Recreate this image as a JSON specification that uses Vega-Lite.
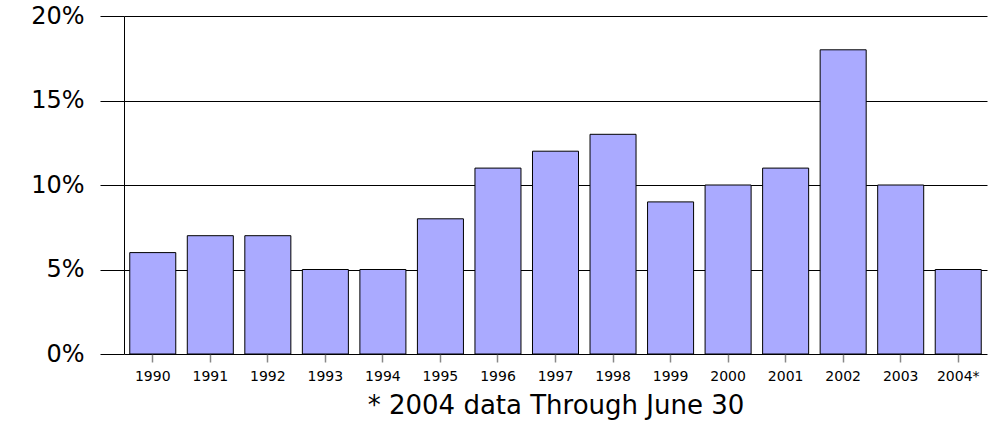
{
  "$schema": "https://vega.github.io/schema/vega-lite/v6.json",
  "width": 863,
  "height": 338,
  "autosize": {"type": "none"},
  "padding": {"left": 124, "top": 16, "right": 1, "bottom": 69},
  "background": "white",
  "data": {"values": [
    {"year": "1990", "v": 0.06},
    {"year": "1991", "v": 0.07},
    {"year": "1992", "v": 0.07},
    {"year": "1993", "v": 0.05},
    {"year": "1994", "v": 0.05},
    {"year": "1995", "v": 0.08},
    {"year": "1996", "v": 0.11},
    {"year": "1997", "v": 0.12},
    {"year": "1998", "v": 0.13},
    {"year": "1999", "v": 0.09},
    {"year": "2000", "v": 0.10},
    {"year": "2001", "v": 0.11},
    {"year": "2002", "v": 0.18},
    {"year": "2003", "v": 0.10},
    {"year": "2004*", "v": 0.05}
  ]},
  "config": {"view": {"stroke": null}},
  "mark": {"type": "bar", "fill": "#aaaaff", "stroke": "#000000", "strokeWidth": 1},
  "encoding": {
    "x": {
      "field": "year", "type": "nominal", "sort": null,
      "scale": {"paddingInner": 0.2, "paddingOuter": 0.1},
      "axis": {
        "title": "* 2004 data Through June 30",
        "titleFont": "DejaVu Sans", "titleFontSize": 26, "titleFontWeight": "normal",
        "titleColor": "#000000", "titlePadding": 9,
        "labelAngle": 0, "labelFont": "DejaVu Sans", "labelFontSize": 14,
        "labelColor": "#000000", "labelPadding": 7,
        "domain": false, "ticks": true, "tickColor": "#888888", "tickSize": 8, "tickWidth": 1.5
      }
    },
    "y": {
      "field": "v", "type": "quantitative",
      "scale": {"domain": [0, 0.2]},
      "axis": {
        "title": null, "format": ".0%", "values": [0, 0.05, 0.1, 0.15, 0.2],
        "labelFont": "DejaVu Sans", "labelFontSize": 24, "labelColor": "#000000",
        "labelPadding": 16, "tickSize": 24, "tickColor": "#000000", "tickWidth": 1,
        "grid": true, "gridColor": "#000000", "gridWidth": 1, "gridOpacity": 1,
        "domain": true, "domainColor": "#000000", "domainWidth": 1
      }
    }
  }
}
